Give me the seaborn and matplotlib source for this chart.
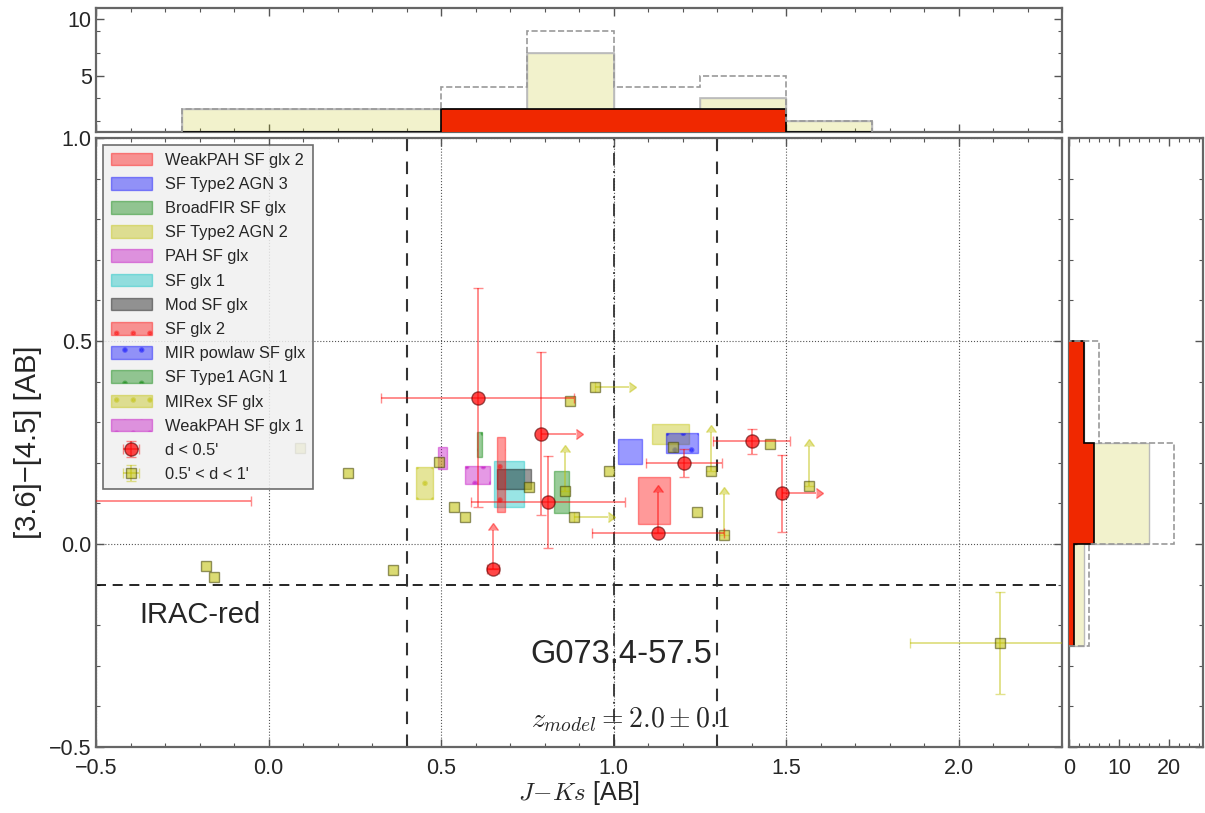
import numpy as np
import matplotlib
matplotlib.use("Agg")
import matplotlib.pyplot as plt
import seaborn as sns
from matplotlib.ticker import MultipleLocator, FixedLocator

# ---------------- data ----------------
box_labels = ["WeakPAH SF glx 2", "SF Type2 AGN 3", "BroadFIR SF glx", "SF Type2 AGN 2",
              "PAH SF glx", "SF glx 1", "Mod SF glx", "SF glx 2", "MIR powlaw SF glx",
              "SF Type1 AGN 1", "MIRex SF glx", "WeakPAH SF glx 1"]
box_x0 = [1.070, 1.012, 0.827, 1.113, 0.492, 0.655, 0.661, 0.663, 1.153, 0.605, 0.428, 0.570]
box_x1 = [1.163, 1.084, 0.872, 1.219, 0.518, 0.740, 0.761, 0.685, 1.244, 0.620, 0.478, 0.642]
box_y0 = [0.050, 0.196, 0.076, 0.247, 0.185, 0.090, 0.135, 0.078, 0.224, 0.214, 0.110, 0.147]
box_y1 = [0.165, 0.259, 0.180, 0.295, 0.238, 0.204, 0.184, 0.264, 0.273, 0.275, 0.189, 0.191]

near_x = [0.606, 0.790, 0.810, 0.650, 1.129, 1.204, 1.400, 1.488, -0.55]
near_y = [0.360, 0.272, 0.103, -0.062, 0.028, 0.199, 0.253, 0.125, 0.106]
near_xerr = [0.28, 0.10, 0.223, 0.017, 0.19, 0.11, 0.113, 0.10, 0.50]
near_yerr = [0.27, 0.20, 0.114, 0.096, 0.10, 0.034, 0.031, 0.095, 0.0]
near_xlolim = [False, True, False, False, False, False, False, True, False]
near_ylolim = [False, False, False, True, True, False, False, False, False]

far_x = [-0.18, -0.158, 0.091, 0.229, 0.36, 0.494, 0.537, 0.570, 0.755, 0.860, 0.874,
         0.885, 0.946, 0.987, 1.172, 1.242, 1.283, 1.321, 1.455, 1.568, 2.12]
far_y = [-0.053, -0.081, 0.236, 0.176, -0.065, 0.201, 0.092, 0.066, 0.141, 0.131, 0.351,
         0.066, 0.387, 0.181, 0.238, 0.080, 0.181, 0.022, 0.247, 0.144, -0.243]
far_xerr = [0, 0, 0, 0, 0, 0, 0, 0, 0, 0, 0, 0.10, 0.10, 0, 0, 0, 0, 0, 0, 0, 0.26]
far_yerr = [0, 0, 0, 0, 0, 0, 0, 0, 0, 0.096, 0, 0, 0, 0, 0, 0, 0.096, 0.10, 0, 0.097, 0.126]
far_xlolim = [False] * 11 + [True, True] + [False] * 8
far_ylolim = [False] * 9 + [True] + [False] * 6 + [True, True, False, True, False]

histx_edges = [-0.25, 0.0, 0.25, 0.5, 0.75, 1.0, 1.25, 1.5, 1.75]
histx_near = [0, 0, 0, 2, 2, 2, 2, 0]
histx_far = [2, 2, 2, 2, 7, 2, 3, 1]
histy_edges = [-0.25, 0.0, 0.25, 0.5]
histy_near = [1, 5, 3]
histy_far = [3, 16, 3]

# ---------------- style ----------------
sns.set_style("white")
plt.rcParams['font.family'] = ['Liberation Sans', 'DejaVu Sans']
plt.rcParams['mathtext.fontset'] = 'cm'
plt.rcParams['hatch.linewidth'] = 1.6
plt.rcParams['axes.unicode_minus'] = True

box_colors = ['r', 'b', 'g', 'y', 'm', 'c', 'k', 'r', 'b', 'g', 'y', 'm']
box_hatch = [None] * 7 + ['.'] * 5

W, H = 1205, 813
fig = plt.figure(figsize=(W / 100, H / 100), dpi=100)
ax = fig.add_axes([96 / W, 1 - 747 / H, (1062 - 96) / W, (747 - 138) / H])
axt = fig.add_axes([96 / W, 1 - 132 / H, (1062 - 96) / W, (132 - 8) / H], sharex=ax)
axr = fig.add_axes([1069 / W, 1 - 747 / H, (1203 - 1069) / W, (747 - 138) / H], sharey=ax)

spine_col = '#666666'
for a in (ax, axt, axr):
    for s in a.spines.values():
        s.set_color(spine_col)
        s.set_linewidth(1.6)
    a.tick_params(which='both', direction='in', top=True, right=True, bottom=True, left=True,
                  color='#555555', labelsize=15.5, pad=3)
    a.tick_params(which='major', length=6, width=1)
    a.tick_params(which='minor', length=3, width=0.8)
ax.tick_params(axis='x', pad=8)
axr.tick_params(axis='x', pad=8)

# ---------------- main panel ----------------
handles = []
for lab, x0, x1, y0, y1, c, h in zip(box_labels, box_x0, box_x1, box_y0, box_y1, box_colors, box_hatch):
    bc = ax.bar(x0, y1 - y0, width=x1 - x0, bottom=y0, align='edge', color=c, alpha=0.4,
                edgecolor=c, linewidth=1.0, hatch=h, label=lab, zorder=2)
    handles.append(bc)

red_e = (1, 0, 0, 0.45)
yel_e = (0.75, 0.75, 0, 0.45)
near_style = dict(fmt='o', color=red_e, ms=9.5, mfc=(1, 0, 0, 0.72), mec=(0.35, 0, 0, 0.6), mew=1,
                  ecolor=red_e, elinewidth=1.4, capsize=3.5, capthick=1.2, zorder=4)
far_style = dict(fmt='s', color=yel_e, ms=7, mfc=(0.75, 0.75, 0, 0.55), mec=(0.25, 0.25, 0, 0.55),
                 mew=1, ecolor=yel_e, elinewidth=1.4, capsize=3.5, capthick=1.2, zorder=3)


def draw_points(xs, ys, xe, ye, xl, yl, style, label):
    xs, ys, xe, ye = map(np.asarray, (xs, ys, xe, ye))
    xl, yl = np.asarray(xl, bool), np.asarray(yl, bool)
    hx, hy = xe > 0, ye > 0
    legend_handle = None
    for gx in (True, False):
        for gy in (True, False):
            m = (hx == gx) & (hy == gy)
            if not m.any():
                continue
            kw = dict(style)
            if gx:
                kw.update(xerr=xe[m], xlolims=xl[m])
            if gy:
                kw.update(yerr=ye[m], lolims=yl[m])
            c = ax.errorbar(xs[m], ys[m], **kw)
            if gx and gy and legend_handle is None:
                legend_handle = c
    legend_handle.set_label(label)
    return legend_handle


eb_near = draw_points(near_x, near_y, near_xerr, near_yerr, near_xlolim, near_ylolim,
                      near_style, "d < 0.5'")
eb_far = draw_points(far_x, far_y, far_xerr, far_yerr, far_xlolim, far_ylolim,
                     far_style, "0.5' < d < 1'")
handles += [eb_near, eb_far]

ax.axhline(-0.1, color='k', ls='--', lw=1.2, dashes=(6, 4), zorder=1.5)
ax.axvline(0.4, color='#333333', ls='--', lw=1.5, dashes=(6, 5), zorder=1.5)
ax.axvline(1.3, color='#333333', ls='--', lw=1.5, dashes=(6, 5), zorder=1.5)
ax.axvline(1.0, color='#333333', ls='-.', lw=1.3, dashes=(7, 3, 1, 3), zorder=1.5)

ax.set_xlim(-0.5, 2.3)
ax.set_ylim(-0.5, 1.0)
ax.xaxis.set_major_locator(MultipleLocator(0.5))
ax.xaxis.set_minor_locator(MultipleLocator(0.1))
ax.yaxis.set_major_locator(MultipleLocator(0.5))
ax.yaxis.set_minor_locator(MultipleLocator(0.1))
ax.grid(True, which='major', ls=':', color='#555555', lw=0.8, zorder=0)
ax.set_axisbelow(True)

ax.set_xlabel(r"$J\!-\!Ks$ [AB]", fontsize=18, labelpad=0)
ax.set_ylabel("[3.6]\u2212[4.5] [AB]", fontsize=21, labelpad=5)

ax.text(-0.2, -0.175, "IRAC-red", fontsize=21, ha='center', va='center')
ax.text(0.76, -0.273, "G073.4-57.5", fontsize=23.5, ha='left', va='center')
ax.text(0.76, -0.433, r"$z_{model}=2.0\pm0.1$", fontsize=20, ha='left', va='center')

leg = ax.legend(handles=handles, loc='upper left', fontsize=11.8, frameon=True,
                fancybox=False, framealpha=0.85, facecolor='#f0f0f0', edgecolor='#555555',
                handlelength=2.5, handleheight=0.8, labelspacing=0.56, handletextpad=0.8,
                borderaxespad=0.45, borderpad=0.45)
leg.get_frame().set_linewidth(1.2)
leg.set_zorder(5)

# ---------------- top histogram ----------------
histx_total = [a + b for a, b in zip(histx_near, histx_far)]
axt.stairs(histx_far, histx_edges, fill=True, facecolor=(0.75, 0.75, 0, 0.2),
           edgecolor='#bbbbbb', lw=1, zorder=2)
axt.stairs(histx_far, histx_edges, fill=False, color='#bbbbbb', lw=1.2, zorder=2)
axt.stairs(histx_near, histx_edges, fill=True, facecolor='#f02800', edgecolor='k',
           lw=1.2, zorder=3)
axt.stairs(histx_total, histx_edges, fill=False, color='#999999', ls='--', lw=1.2, zorder=4)
axt.set_ylim(0, 11)
axt.yaxis.set_major_locator(FixedLocator([5, 10]))
axt.yaxis.set_minor_locator(FixedLocator([1, 3, 7, 9]))
axt.tick_params(labelbottom=False)

# ---------------- right histogram ----------------
histy_total = [a + b for a, b in zip(histy_near, histy_far)]
axr.stairs(histy_far, histy_edges, fill=True, facecolor=(0.75, 0.75, 0, 0.2),
           edgecolor='#bbbbbb', lw=1, orientation='horizontal', zorder=2)
axr.stairs(histy_near, histy_edges, fill=True, facecolor='#f02800', edgecolor='k',
           lw=1.2, orientation='horizontal', zorder=3)
axr.stairs(histy_total, histy_edges, fill=False, color='#999999', ls='--', lw=1.2,
           orientation='horizontal', zorder=4)
axr.set_xlim(0, 26.7)
axr.xaxis.set_major_locator(FixedLocator([0, 10, 20]))
axr.xaxis.set_minor_locator(MultipleLocator(2))
axr.tick_params(labelleft=False)

fig.savefig("out.png", dpi=100)
